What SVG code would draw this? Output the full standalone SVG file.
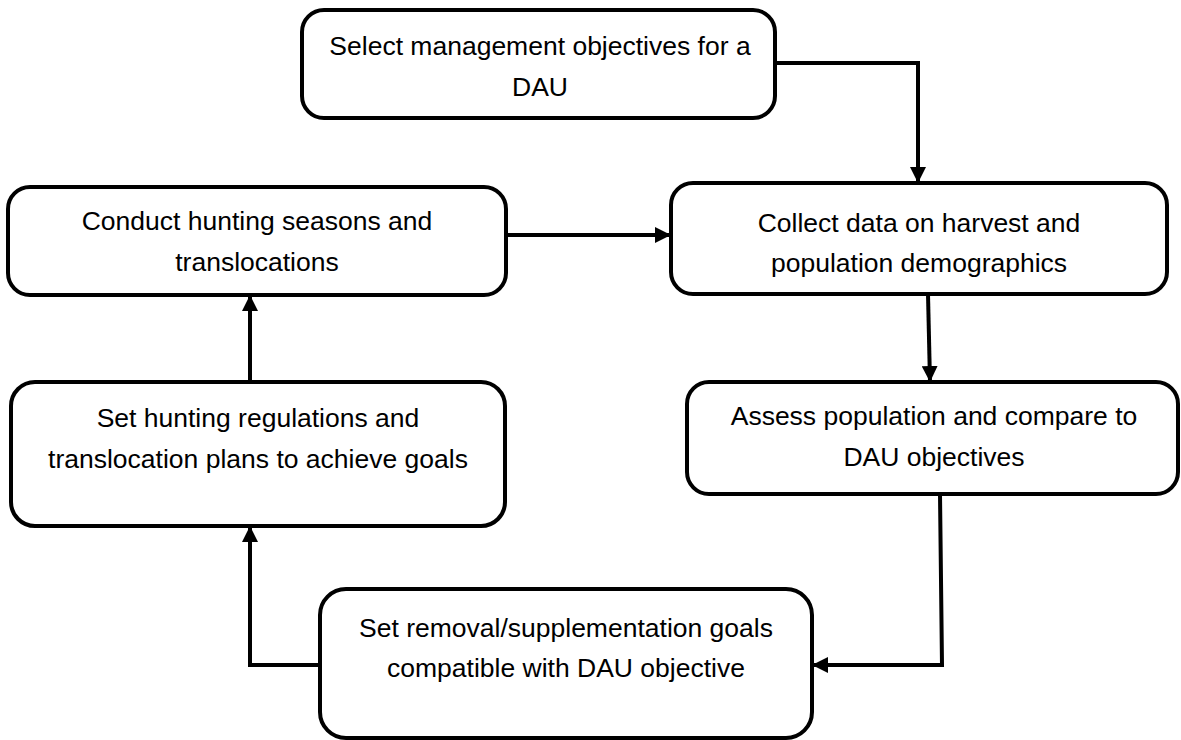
<svg xmlns="http://www.w3.org/2000/svg" width="1181" height="740" viewBox="0 0 1181 740">
<defs>
<marker id="ah" viewBox="0 0 10 10" refX="10" refY="5" markerWidth="4" markerHeight="4" markerUnits="strokeWidth" orient="auto">
<path d="M0,0 L10,5 L0,10 z" fill="#000"/>
</marker>
<style>
.box{fill:#fff;stroke:#000;stroke-width:4}
.t{font-family:"Liberation Sans",Arial,sans-serif;font-size:26.5px;fill:#000;text-anchor:middle}
.c{fill:none;stroke:#000;stroke-width:4;marker-end:url(#ah)}
</style>
</defs>
<rect width="1181" height="740" fill="#fff"/>
<g id="n1"><rect class="box" x="302" y="10" width="473" height="108" rx="22"/>
<text class="t" x="540" y="55">Select management objectives for a</text>
<text class="t" x="540" y="96">DAU</text></g>
<g id="n2"><rect class="box" x="671" y="183" width="496" height="111" rx="22"/>
<text class="t" x="919" y="232">Collect data on harvest and</text>
<text class="t" x="919" y="272">population demographics</text></g>
<g id="n3"><rect class="box" x="8" y="187" width="498" height="108" rx="22"/>
<text class="t" x="257" y="230">Conduct hunting seasons and</text>
<text class="t" x="257" y="271">translocations</text></g>
<g id="n4"><rect class="box" x="11" y="382" width="494" height="144" rx="24"/>
<text class="t" x="258" y="427">Set hunting regulations and</text>
<text class="t" x="258" y="468">translocation plans to achieve goals</text></g>
<g id="n5"><rect class="box" x="687" y="382" width="491" height="112" rx="22"/>
<text class="t" x="934" y="425">Assess population and compare to</text>
<text class="t" x="934" y="466">DAU objectives</text></g>
<g id="n6"><rect class="box" x="320" y="589" width="492" height="149" rx="26"/>
<text class="t" x="566" y="637">Set removal/supplementation goals</text>
<text class="t" x="566" y="677">compatible with DAU objective</text></g>
<g id="connectors">
<path class="c" d="M775,63 H918 V183"/>
<path class="c" d="M506,235 H671"/>
<path class="c" d="M928,294 L930,382"/>
<path class="c" d="M940,494 L942,665 H812"/>
<path class="c" d="M320,665 H250 V526"/>
<path class="c" d="M250,382 V295"/>
</g>
</svg>
